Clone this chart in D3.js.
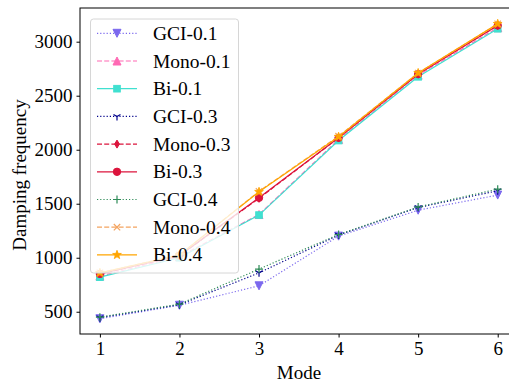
<!DOCTYPE html>
<html>
<head>
<meta charset="utf-8">
<script src="https://cdn.jsdelivr.net/npm/d3@7"></script>
<style>
  body { margin: 0; background: #fff; }
  svg { display: block; font-family: "Liberation Serif", "Times New Roman", serif; }
</style>
</head>
<body>
<div id="chart"></div>
<script>
// modes on the x axis
const modes = [1, 2, 3, 4, 5, 6];
const xTicks = [1, 2, 3, 4, 5, 6];
const yTicks = [500, 1000, 1500, 2000, 2500, 3000];

// damping frequency per series
const gci01 = [435, 560, 740, 1200, 1440, 1580];
const mono01 = [830, 1010, 1400, 2095, 2690, 3130];
const bi01 = [820, 1000, 1395, 2085, 2675, 3120];
const gci03 = [445, 565, 860, 1210, 1465, 1620];
const mono03 = [850, 1020, 1550, 2110, 2700, 3150];
const bi03 = [850, 1020, 1555, 2110, 2700, 3150];
const gci04 = [450, 570, 895, 1215, 1470, 1635];
const mono04 = [860, 1025, 1615, 2125, 2710, 3165];
const bi04 = [860, 1025, 1610, 2120, 2710, 3165];

const seriesNames = ['GCI-0.1', 'Mono-0.1', 'Bi-0.1', 'GCI-0.3', 'Mono-0.3', 'Bi-0.3', 'GCI-0.4', 'Mono-0.4', 'Bi-0.4'];
const seriesValues = [gci01, mono01, bi01, gci03, mono03, bi03, gci04, mono04, bi04];

// styling per series (kept apart from the data)
const styles = [
  { color: '#7b68ee', dash: 'dot', marker: 'tridown' },
  { color: '#ff69b4', dash: 'dash', marker: 'triup' },
  { color: '#40e0d0', dash: 'solid', marker: 'square' },
  { color: '#00008b', dash: 'dot', marker: 'tri1' },
  { color: '#dc143c', dash: 'dash', marker: 'thindiamond' },
  { color: '#dc143c', dash: 'solid', marker: 'circle' },
  { color: '#2e8b57', dash: 'dot', marker: 'plus' },
  { color: '#f4a460', dash: 'dash', marker: 'x' },
  { color: '#ffa500', dash: 'solid', marker: 'star' }
];

const W = 509, H = 383;
const mLeft = 80, mTop = 8, mBottom = 334, mRight = 517.6;

const svg = d3.select('#chart').append('svg')
  .attr('width', W)
  .attr('height', H);

const x = d3.scaleLinear().domain([0.75, 6.25]).range([mLeft, mRight]);
const y = d3.scaleLinear().domain([294, 3312]).range([mBottom, mTop]);

const dashArray = d => d === 'dot' ? '1.2,2' : (d === 'dash' ? '5,2.2' : null);

function drawMarker(g, type, color, cx, cy) {
  const r = 4;
  const m = g.append('g').attr('transform', 'translate(' + cx + ',' + cy + ')');
  if (type === 'tridown') {
    m.append('path').attr('d', `M0,${r}L${-r},${-r}L${r},${-r}Z`)
      .attr('fill', color).attr('stroke', color).attr('stroke-width', 1);
  } else if (type === 'triup') {
    m.append('path').attr('d', `M0,${-r}L${-r},${r}L${r},${r}Z`)
      .attr('fill', color).attr('stroke', color).attr('stroke-width', 1);
  } else if (type === 'square') {
    m.append('rect').attr('x', -3.3).attr('y', -3.3).attr('width', 6.6).attr('height', 6.6)
      .attr('fill', color).attr('stroke', color).attr('stroke-width', 1);
  } else if (type === 'tri1') {
    m.append('path').attr('d', `M0,0L0,${r}M0,0L${-r * 0.87},${-r * 0.5}M0,0L${r * 0.87},${-r * 0.5}`)
      .attr('fill', 'none').attr('stroke', color).attr('stroke-width', 1.2);
  } else if (type === 'thindiamond') {
    m.append('path').attr('d', `M0,${-r}L${r * 0.6},0L0,${r}L${-r * 0.6},0Z`)
      .attr('fill', color).attr('stroke', color).attr('stroke-width', 1);
  } else if (type === 'circle') {
    m.append('circle').attr('r', 3.7)
      .attr('fill', color).attr('stroke', color).attr('stroke-width', 1);
  } else if (type === 'plus') {
    m.append('path').attr('d', `M${-r},0L${r},0M0,${-r}L0,${r}`)
      .attr('fill', 'none').attr('stroke', color).attr('stroke-width', 1.2);
  } else if (type === 'x') {
    const a = r * 0.8;
    m.append('path').attr('d', `M${-a},${-a}L${a},${a}M${-a},${a}L${a},${-a}`)
      .attr('fill', 'none').attr('stroke', color).attr('stroke-width', 1.2);
  } else if (type === 'star') {
    const pts = [];
    for (let i = 0; i < 10; i++) {
      const rr = i % 2 === 0 ? 4.6 : 1.9;
      const ang = -Math.PI / 2 + i * Math.PI / 5;
      pts.push([rr * Math.cos(ang), rr * Math.sin(ang)]);
    }
    m.append('path').attr('d', 'M' + pts.map(p => p.join(',')).join('L') + 'Z')
      .attr('fill', color).attr('stroke', color).attr('stroke-width', 0.8);
  }
}

const plot = svg.append('g');

const line = d3.line()
  .x((d, i) => x(modes[i]))
  .y(d => y(d));

seriesValues.forEach((vals, k) => {
  const st = styles[k];
  const g = plot.append('g');
  g.append('path')
    .attr('d', line(vals))
    .attr('fill', 'none')
    .attr('stroke', st.color)
    .attr('stroke-width', 1.2)
    .attr('stroke-dasharray', dashArray(st.dash));
  vals.forEach((v, i) => drawMarker(g, st.marker, st.color, x(modes[i]), y(v)));
});

// axes
const xAxis = svg.append('g')
  .attr('transform', 'translate(0,' + mBottom + ')')
  .call(d3.axisBottom(x).tickValues(xTicks).tickSize(3.5).tickPadding(4).tickFormat(d3.format('d')));
xAxis.select('.domain').remove();
xAxis.selectAll('text').style('font-size', '19px').attr('fill', '#000').style('font-family', 'Liberation Serif');

const yAxis = svg.append('g')
  .attr('transform', 'translate(' + mLeft + ',0)')
  .call(d3.axisLeft(y).tickValues(yTicks).tickSize(3.5).tickPadding(4).tickFormat(d3.format('d')));
yAxis.select('.domain').remove();
yAxis.selectAll('text').style('font-size', '19px').attr('fill', '#000').style('font-family', 'Liberation Serif');

// spines
svg.append('rect')
  .attr('x', mLeft).attr('y', mTop)
  .attr('width', mRight - mLeft).attr('height', mBottom - mTop)
  .attr('fill', 'none').attr('stroke', '#000').attr('stroke-width', 1);

// axis titles
svg.append('text')
  .attr('x', 299).attr('y', 379)
  .attr('text-anchor', 'middle').style('font-size', '19px')
  .text('Mode');

svg.append('text')
  .attr('transform', 'translate(26,' + ((mTop + mBottom) / 2 + 4) + ') rotate(-90)')
  .attr('text-anchor', 'middle').style('font-size', '19px')
  .text('Damping frequency');

// legend
const leg = svg.append('g');
leg.append('rect')
  .attr('x', 90.5).attr('y', 19).attr('width', 148).attr('height', 254)
  .attr('rx', 3).attr('ry', 3)
  .attr('fill', 'rgba(255,255,255,0.8)')
  .attr('stroke', '#d6d6d6').attr('stroke-width', 1);

seriesNames.forEach((name, k) => {
  const st = styles[k];
  const cy = 33.3 + k * 27.7;
  leg.append('line')
    .attr('x1', 97).attr('x2', 137).attr('y1', cy).attr('y2', cy)
    .attr('stroke', st.color).attr('stroke-width', 1.2)
    .attr('stroke-dasharray', dashArray(st.dash));
  drawMarker(leg, st.marker, st.color, 117, cy);
  leg.append('text')
    .attr('x', 153).attr('y', cy + 6.5)
    .style('font-size', '19.5px')
    .text(name);
});
</script>
</body>
</html>
